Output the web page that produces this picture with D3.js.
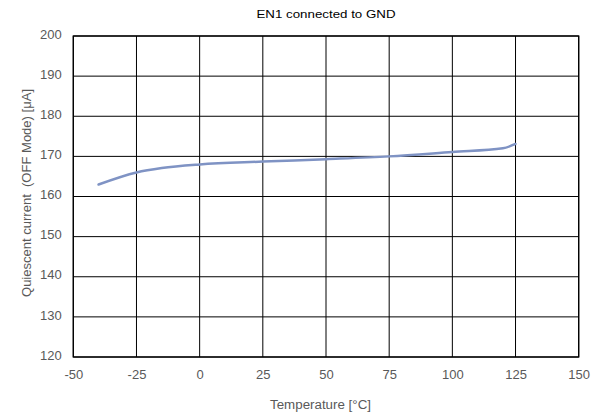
<!DOCTYPE html>
<html>
<head>
<meta charset="utf-8">
<script src="https://cdn.jsdelivr.net/npm/d3@7"></script>
<style>
  html, body { margin: 0; padding: 0; background: #fff; }
  svg { display: block; font-family: "Liberation Sans", Arial, sans-serif; }
</style>
</head>
<body>
<svg id="chart" width="599" height="416"></svg>
<script>
// Quiescent current vs. temperature, EN1 tied to GND
const temperature = [-40, -25, -15, 0, 25, 50, 75, 100, 120, 125];
const current = [163, 166, 167.1, 168, 168.7, 169.3, 170, 171.1, 172, 173.1];
const xTicks = [-50, -25, 0, 25, 50, 75, 100, 125, 150];
const yTicks = [120, 130, 140, 150, 160, 170, 180, 190, 200];

const svg = d3.select("#chart");
const plotLeft = 73.3, plotRight = 578.7, plotTop = 36, plotBottom = 357;

const x = d3.scaleLinear().domain([-50, 150]).range([plotLeft, plotRight]);
const y = d3.scaleLinear().domain([120, 200]).range([plotBottom, plotTop]);

// grid
svg.append("g").selectAll("line").data(xTicks).join("line")
  .attr("x1", d => x(d)).attr("x2", d => x(d))
  .attr("y1", plotTop).attr("y2", plotBottom)
  .attr("stroke", "#000").attr("stroke-width", 1);
svg.append("g").selectAll("line").data(yTicks).join("line")
  .attr("x1", plotLeft).attr("x2", plotRight)
  .attr("y1", d => y(d)).attr("y2", d => y(d))
  .attr("stroke", "#000").attr("stroke-width", 1);

// frame
svg.append("rect")
  .attr("x", plotLeft).attr("y", plotTop)
  .attr("width", plotRight - plotLeft).attr("height", plotBottom - plotTop)
  .attr("fill", "none").attr("stroke", "#000").attr("stroke-width", 1.3);

// axes labels (plain hyphen for negatives)
const xAxis = d3.axisBottom(x).tickValues(xTicks).tickFormat(d => String(d)).tickSize(0).tickPadding(13);
svg.append("g").attr("transform", `translate(0,${plotBottom})`).call(xAxis)
  .call(g => g.select(".domain").remove())
  .selectAll("text").attr("fill", "#595959").attr("font-size", 13)
  .attr("font-family", "Liberation Sans, Arial, sans-serif");

const yAxis = d3.axisLeft(y).tickValues(yTicks).tickFormat(d => String(d)).tickSize(0).tickPadding(11.5);
svg.append("g").attr("transform", `translate(${plotLeft},-2)`).call(yAxis)
  .call(g => g.select(".domain").remove())
  .selectAll("text").attr("fill", "#595959").attr("font-size", 13)
  .attr("font-family", "Liberation Sans, Arial, sans-serif");

// series
const line = d3.line().x((d, i) => x(temperature[i])).y(d => y(d)).curve(d3.curveMonotoneX);
svg.append("path").datum(current)
  .attr("d", line)
  .attr("fill", "none").attr("stroke", "#7f93c4").attr("stroke-width", 2.5)
  .attr("stroke-linecap", "round");

// titles
svg.append("text").attr("x", 326).attr("y", 18.3)
  .attr("text-anchor", "middle").attr("font-size", 11.8).attr("fill", "#000")
  .attr("textLength", 139).attr("lengthAdjust", "spacingAndGlyphs")
  .text("EN1 connected to GND");

svg.append("text").attr("x", 320.5).attr("y", 409)
  .attr("text-anchor", "middle").attr("font-size", 12.5).attr("fill", "#595959")
  .attr("textLength", 101).attr("lengthAdjust", "spacingAndGlyphs")
  .text("Temperature [°C]");

svg.append("text")
  .attr("transform", `translate(30.7,193) rotate(-90)`)
  .attr("text-anchor", "middle").attr("font-size", 12.5).attr("fill", "#595959")
  .attr("textLength", 208).attr("lengthAdjust", "spacingAndGlyphs")
  .style("white-space", "pre")
  .text("Quiescent current  (OFF Mode) [μA]");
</script>
</body>
</html>
